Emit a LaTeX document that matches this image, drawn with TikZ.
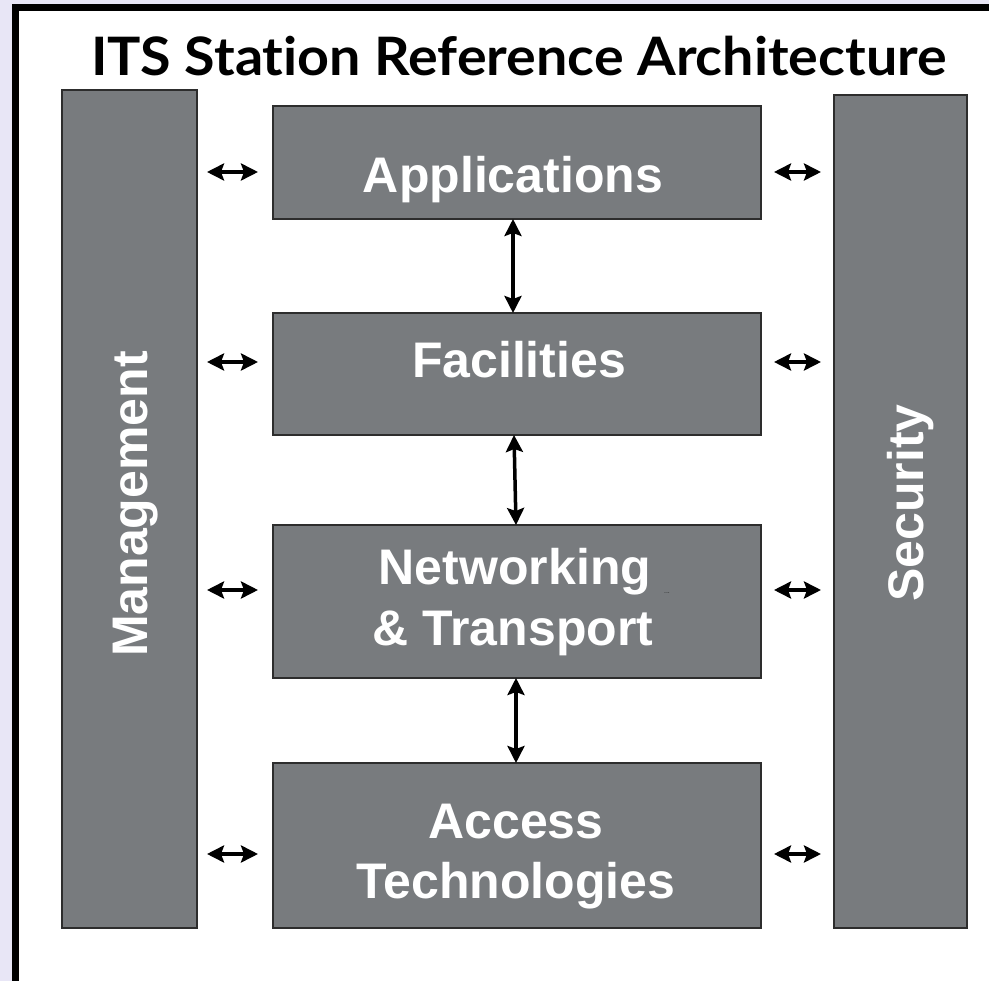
\documentclass[tikz,border=0pt]{standalone}
\usepackage{fontspec}
\setmainfont{Liberation Sans}
\newfontfamily\titlefont[Ligatures=NoCommon,FakeStretch=1.05]{Lato}
\usepackage{tikz}
\usetikzlibrary{arrows,arrows.meta,positioning,calc}

\definecolor{lavender}{RGB}{232,230,246}
\definecolor{layergray}{RGB}{120,123,126}
\definecolor{layerline}{RGB}{45,45,45}

\begin{document}
\begin{tikzpicture}[x=1pt,y=-1pt]
  \tikzset{
    layerbox/.style={draw=layerline,line width=1.5pt,fill=layergray,
      inner sep=0pt,outer sep=0pt},
    layertext/.style={text=white,font=\bfseries\fontsize{50}{60}\selectfont,
      anchor=base,inner sep=0pt},
    bigtip/.tip={Stealth[length=17pt,width=17pt,inset=3pt]},
    linkarrow/.style={bigtip-bigtip,line width=3.5pt},
  }
  % fix the page to the size of the picture
  \useasboundingbox (0,0) rectangle (989,981);
  \clip (0,0) rectangle (989,981);
  \fill[lavender] (0,0) rectangle (989,981);
  \draw[line width=7pt,fill=white] (15,7.5) rectangle (1010,1010);

  \node[font=\titlefont\bfseries\fontsize{53}{60}\selectfont,
    anchor=base,inner sep=0pt] (title) at (519,76)
    {ITS Station Reference Architecture};

  % the two side columns
  \node[layerbox,minimum width=135pt,minimum height=838pt] (mgmt) at (129.5,509) {};
  \node[layerbox,minimum width=133pt,minimum height=833pt] (sec) at (900.5,511.5) {};

  % the four layers of the stack
  \newcommand\LayerWidth{488pt}
  \node[layerbox,minimum width=\LayerWidth,minimum height=113pt] (app) at (517,162.5) {};
  \node[layerbox,minimum width=\LayerWidth,minimum height=122pt] (fac) at (517,374) {};
  \node[layerbox,minimum width=\LayerWidth,minimum height=153pt] (net) at (517,601.5) {};
  \node[layerbox,minimum width=\LayerWidth,minimum height=165pt] (acc) at (517,845.5) {};

  % labels
  \node[layertext] (app-txt) at (513,193) {Applications};
  \node[layertext] (fac-txt) at (519,378) {Facilities};
  \node[layertext] (net-txt) at (515,585) {Networking};
  \node[layertext] (tra-txt) at (513,645) {\& Transport};
  \node[layertext] (acc-txt) at (516,838) {Access};
  \node[layertext] (tec-txt) at (516,898) {Technologies};
  \node[layertext,rotate=90] (mgmt-txt) at (147,504) {Management};
  \node[layertext,rotate=90] (sec-txt) at (923,503) {Security};
  \node[text=black!85,font=\fontsize{7}{7}\selectfont,inner sep=0pt] (net-dots) at (667,593) {...};

  % links between the layers
  \draw[linkarrow] ([xshift=-4pt]app.south) -- ([xshift=-4pt]fac.north);
  \draw[linkarrow] ([xshift=-3pt]fac.south) -- ([xshift=-1pt]net.north);
  \draw[linkarrow] ([xshift=-1pt]net.south) -- ([xshift=-1pt]acc.north);

  % links to management and security
  \foreach \y/\lay in {172/app,362/fac,590/net,854/acc} {
    \draw[linkarrow,shorten <=10pt,shorten >=15pt]
      (mgmt.east |- 0,\y) -- (\lay.west |- 0,\y);
    \draw[linkarrow,shorten <=13pt,shorten >=13pt]
      (\lay.east |- 0,\y) -- (sec.west |- 0,\y);
  }
\end{tikzpicture}
\end{document}
